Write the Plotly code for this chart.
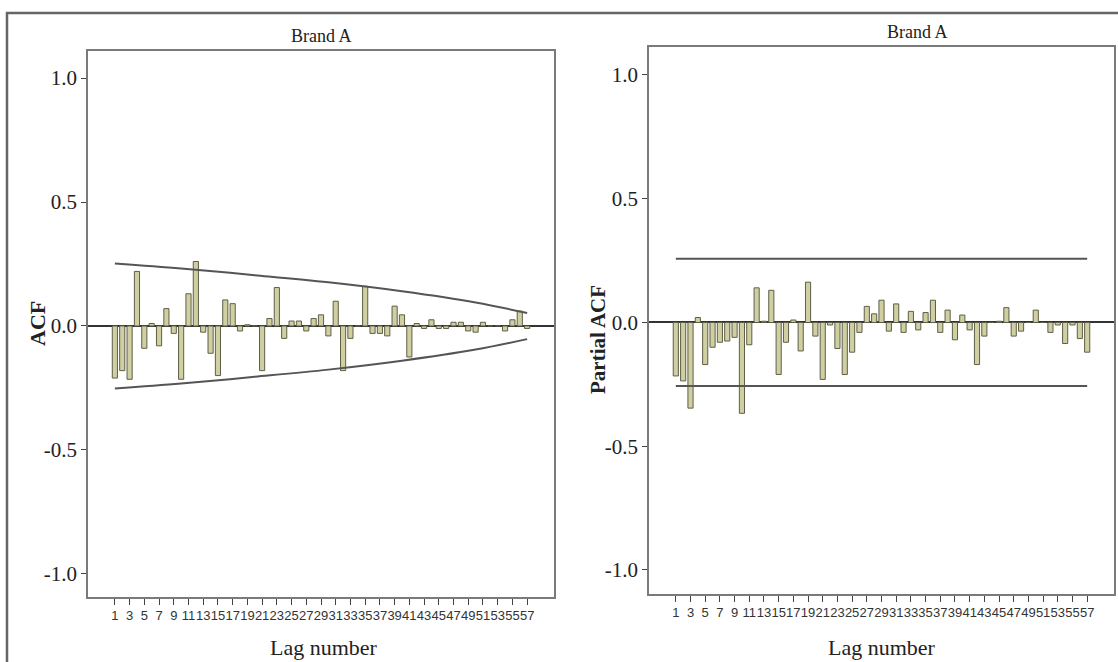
import plotly.graph_objects as go

# ---- data ----
lags = list(range(1, 58))
acf_values = [-0.21, -0.18, -0.215, 0.22, -0.09, 0.01, -0.08, 0.07, -0.03, -0.215,
              0.13, 0.26, -0.025, -0.11, -0.20, 0.105, 0.09, -0.02, 0.005, 0.0,
              -0.18, 0.03, 0.155, -0.05, 0.02, 0.02, -0.02, 0.03, 0.045, -0.04,
              0.10, -0.18, -0.05, 0.0, 0.16, -0.03, -0.03, -0.04, 0.08, 0.045,
              -0.125, 0.01, -0.01, 0.025, -0.01, -0.01, 0.015, 0.015, -0.02, -0.025,
              0.015, 0.0, 0.0, -0.02, 0.025, 0.06, -0.01]
pacf_values = [-0.216, -0.236, -0.346, 0.02, -0.17, -0.10, -0.08, -0.075, -0.06, -0.367,
               -0.09, 0.14, 0.005, 0.13, -0.21, -0.08, 0.01, -0.115, 0.163, -0.055,
               -0.23, -0.01, -0.105, -0.21, -0.12, -0.04, 0.065, 0.035, 0.09, -0.035,
               0.075, -0.04, 0.045, -0.03, 0.04, 0.09, -0.04, 0.05, -0.07, 0.03,
               -0.03, -0.17, -0.055, 0.0, 0.005, 0.06, -0.055, -0.035, 0.0, 0.05,
               0.0, -0.04, -0.01, -0.085, -0.01, -0.065, -0.12]
acf_conf_lags = [1, 10, 20, 30, 40, 50, 57]
acf_conf_upper = [0.252, 0.232, 0.205, 0.176, 0.14, 0.095, 0.052]
acf_conf_lower = [-0.252, -0.232, -0.205, -0.176, -0.14, -0.095, -0.053]
pacf_conf_lags = [1, 57]
pacf_conf_upper = [0.257, 0.257]
pacf_conf_lower = [-0.257, -0.257]
tick_lags = list(range(1, 58, 2))
ytick_vals = [1.0, 0.5, 0.0, -0.5, -1.0]
ytick_text = ["1.0", "0.5", "0.0", "-0.5", "-1.0"]
panel_title = "Brand A"

W, H = 1118, 662
SERIF = "Liberation Serif, Times New Roman, serif"
BAR_FILL = "#cfcfa2"
BAR_LINE = "#5f5f48"
CONF = "#555555"
FRAME = "#7a7a7a"

fig = go.Figure()

fig.add_trace(go.Bar(x=lags, y=acf_values, marker=dict(color=BAR_FILL, line=dict(color=BAR_LINE, width=1)),
                     xaxis="x", yaxis="y", showlegend=False))
fig.add_trace(go.Scatter(x=acf_conf_lags, y=acf_conf_upper, mode="lines", line=dict(color=CONF, width=2, shape="spline"),
                         xaxis="x", yaxis="y", showlegend=False))
fig.add_trace(go.Scatter(x=acf_conf_lags, y=acf_conf_lower, mode="lines", line=dict(color=CONF, width=2, shape="spline"),
                         xaxis="x", yaxis="y", showlegend=False))

fig.add_trace(go.Bar(x=lags, y=pacf_values, marker=dict(color=BAR_FILL, line=dict(color=BAR_LINE, width=1)),
                     xaxis="x2", yaxis="y2", showlegend=False))
fig.add_trace(go.Scatter(x=pacf_conf_lags, y=pacf_conf_upper, mode="lines", line=dict(color=CONF, width=2),
                         xaxis="x2", yaxis="y2", showlegend=False))
fig.add_trace(go.Scatter(x=pacf_conf_lags, y=pacf_conf_lower, mode="lines", line=dict(color=CONF, width=2),
                         xaxis="x2", yaxis="y2", showlegend=False))

def px_x(p):
    return p / W

def px_y(p):
    return 1 - p / H

xcommon = dict(range=[-2.65, 60.65], tickvals=tick_lags, ticktext=[str(v) for v in tick_lags],
               ticks="outside", ticklen=6, tickcolor="#444", tickangle=0,
               tickfont=dict(family="Liberation Sans Narrow, Liberation Sans, Arial, sans-serif", size=13, color="#333"),
               showline=True, linecolor=FRAME, linewidth=1.5, mirror=True, showgrid=False, zeroline=False)
ycommon = dict(tickvals=ytick_vals, ticktext=ytick_text, ticks="outside", ticklen=5, tickcolor="#444",
               tickfont=dict(family=SERIF, size=21, color="#222"),
               showline=True, linecolor=FRAME, linewidth=1.5, mirror=True, showgrid=False,
               zeroline=True, zerolinecolor="#333", zerolinewidth=1.5)

fig.update_layout(
    width=W, height=H,
    margin=dict(l=0, r=0, t=0, b=0),
    paper_bgcolor="white", plot_bgcolor="white",
    bargap=0.3,
    xaxis=dict(domain=[px_x(88), px_x(554)], anchor="y", **xcommon),
    yaxis=dict(domain=[px_y(597), px_y(51)], anchor="x", range=[-1.093, 1.109], **ycommon),
    xaxis2=dict(domain=[px_x(649), px_x(1114)], anchor="y2", **xcommon),
    yaxis2=dict(domain=[px_y(594), px_y(47)], anchor="x2", range=[-1.097, 1.113], **ycommon),
)

# outer frame (left and top edges visible)
fig.add_shape(type="rect", xref="paper", yref="paper", x0=px_x(7), x1=px_x(1122), y0=px_y(668), y1=px_y(13),
              line=dict(color="#666", width=2.5), layer="below")

ann = [
    dict(text=panel_title, x=px_x(321), y=px_y(36), size=18, bold=False, angle=0),
    dict(text=panel_title, x=px_x(917), y=px_y(32), size=18, bold=False, angle=0),
    dict(text="Lag number", x=px_x(324), y=px_y(647), size=22, bold=False, angle=0),
    dict(text="Lag number", x=px_x(882), y=px_y(647), size=22, bold=False, angle=0),
    dict(text="ACF", x=px_x(38), y=px_y(324), size=22, bold=True, angle=-90),
    dict(text="Partial ACF", x=px_x(598), y=px_y(340), size=21, bold=True, angle=-90),
]
for a in ann:
    t = f"<b>{a['text']}</b>" if a["bold"] else a["text"]
    fig.add_annotation(text=t, x=a["x"], y=a["y"], xref="paper", yref="paper", showarrow=False,
                       textangle=a["angle"], xanchor="center", yanchor="middle",
                       font=dict(family=SERIF, size=a["size"], color="#222"))

fig.write_html("out.html", config={"displayModeBar": False},
               post_script="document.body.style.margin='0px';document.body.style.overflow='hidden';")
